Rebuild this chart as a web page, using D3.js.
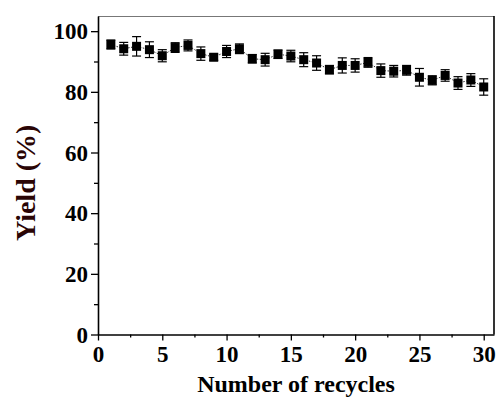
<!DOCTYPE html>
<html>
  <head>
    <meta charset="utf-8">
    <title>Yield vs recycles</title>
    <script src="https://d3js.org/d3.v7.min.js"></script>
    <style type="text/css">
      body { margin: 0; background: #fff; }
      svg { display: block; }
      text { font-family: "Liberation Serif", "Times New Roman", serif; font-weight: bold; }
    </style>
  </head>
  <body>
    <div id="chart"></div>
  </body>
</html>
<script type="text/javascript">
  // recycle number, yield (%), error (+/-)
  const cycles = d3.range(1, 31);
  const yields = [95.6, 94.2, 95.0, 93.9, 91.9, 94.6, 95.3, 92.6, 91.4, 93.3,
                  94.2, 90.9, 90.6, 92.4, 91.8, 90.6, 89.5, 87.3, 88.7, 88.7,
                  89.7, 87.0, 86.8, 87.1, 84.8, 83.8, 85.4, 82.9, 83.9, 81.6];
  const errors = [1.5, 2.1, 3.2, 2.6, 2.0, 1.6, 1.8, 2.2, 1.0, 2.0,
                  1.6, 1.4, 2.1, 1.4, 1.9, 2.3, 2.4, 1.4, 2.5, 2.2,
                  1.6, 2.2, 1.9, 1.6, 2.9, 1.5, 1.9, 2.1, 2.1, 2.7];
  const xTicks = [0, 5, 10, 15, 20, 25, 30];
  const yTicks = [0, 20, 40, 60, 80, 100];

  const width = 498, height = 399;
  const mLeft = 98, mRight = 494, mTop = 16, mBottom = 334.5;

  const data = cycles.map(function(c, i) { return {x: c, y: yields[i], e: errors[i]}; });

  const x = d3.scaleLinear().domain([0, 30.8]).range([mLeft, mRight]);
  const y = d3.scaleLinear().domain([0, 105]).range([mBottom, mTop]);

  const svg = d3.select("#chart").append("svg")
    .attr("width", width)
    .attr("height", height);

  // frame top / right
  svg.append("line")
    .attr("x1", mLeft).attr("x2", mRight).attr("y1", mTop + 0.5).attr("y2", mTop + 0.5)
    .attr("stroke", "#777").attr("stroke-width", 1);
  svg.append("line")
    .attr("x1", mRight).attr("x2", mRight).attr("y1", mTop).attr("y2", mBottom)
    .attr("stroke", "#000").attr("stroke-width", 1.6);

  // axes
  const xAxis = svg.append("g")
    .attr("transform", "translate(0," + mBottom + ")")
    .call(d3.axisBottom(x).tickValues(xTicks).tickSize(6).tickPadding(5).tickSizeOuter(0));
  svg.append("g")
    .attr("transform", "translate(0," + mBottom + ")")
    .call(d3.axisBottom(x).tickValues(d3.range(2.5, 31, 5)).tickSize(3).tickFormat("").tickSizeOuter(0))
    .select(".domain").remove();

  const yAxis = svg.append("g")
    .attr("transform", "translate(" + mLeft + ",0)")
    .call(d3.axisLeft(y).tickValues(yTicks).tickSize(7).tickPadding(3).tickSizeOuter(0));
  svg.append("g")
    .attr("transform", "translate(" + mLeft + ",0)")
    .call(d3.axisLeft(y).tickValues(d3.range(10, 101, 20)).tickSize(4).tickFormat("").tickSizeOuter(0))
    .select(".domain").remove();

  [xAxis, yAxis].forEach(function(g) {
    g.attr("font-family", "Liberation Serif")
      .attr("font-weight", "bold")
      .attr("font-size", 23);
  });
  svg.selectAll(".domain").attr("stroke-width", 1.6);
  svg.selectAll(".tick line").attr("stroke-width", 1.3);
  svg.selectAll(".tick text").attr("fill", "#000");
  yAxis.selectAll(".tick text").attr("dy", "0.34em");

  // axis titles
  svg.append("text")
    .attr("x", (mLeft + mRight) / 2)
    .attr("y", 392)
    .attr("text-anchor", "middle")
    .style("font-size", "24px")
    .text("Number of recycles");

  svg.append("text")
    .attr("transform", "translate(35," + y(50) + ") rotate(-90)")
    .attr("text-anchor", "middle")
    .style("font-size", "28px")
    .attr("fill", "#2a0505")
    .text("Yield (%)");

  // dotted connecting line
  const line = d3.line().x(function(d) { return x(d.x); }).y(function(d) { return y(d.y); });
  svg.append("path")
    .datum(data)
    .attr("d", line)
    .attr("fill", "none")
    .attr("stroke", "#333")
    .attr("stroke-width", 1)
    .attr("stroke-dasharray", "1.5,1.5");

  // error bars
  const bars = svg.append("g").attr("stroke", "#000").attr("stroke-width", 1.2);
  bars.selectAll(".ev").data(data).enter().append("line")
    .attr("x1", function(d) { return x(d.x); })
    .attr("x2", function(d) { return x(d.x); })
    .attr("y1", function(d) { return y(d.y + d.e); })
    .attr("y2", function(d) { return y(d.y - d.e); });
  bars.selectAll(".cap-top").data(data).enter().append("line")
    .attr("x1", function(d) { return x(d.x) - 4.5; })
    .attr("x2", function(d) { return x(d.x) + 4.5; })
    .attr("y1", function(d) { return y(d.y + d.e); })
    .attr("y2", function(d) { return y(d.y + d.e); });
  bars.selectAll(".cap-bot").data(data).enter().append("line")
    .attr("x1", function(d) { return x(d.x) - 4.5; })
    .attr("x2", function(d) { return x(d.x) + 4.5; })
    .attr("y1", function(d) { return y(d.y - d.e); })
    .attr("y2", function(d) { return y(d.y - d.e); });

  // square markers
  svg.selectAll(".pt").data(data).enter().append("rect")
    .attr("x", function(d) { return x(d.x) - 4.5; })
    .attr("y", function(d) { return y(d.y) - 4.5; })
    .attr("width", 9)
    .attr("height", 9)
    .attr("fill", "#000");
</script>
